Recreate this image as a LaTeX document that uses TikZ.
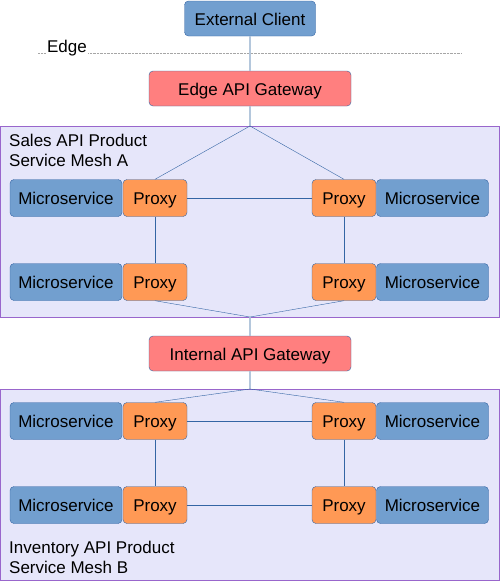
\documentclass[tikz,border=0pt]{standalone}
\usepackage{fontspec}
\setmainfont{Liberation Sans}
\usetikzlibrary{positioning}
\definecolor{msblue}{HTML}{729FCF}
\definecolor{lineblue}{HTML}{3465A4}
\definecolor{palelink}{HTML}{B4C7DC}
\definecolor{pxorange}{HTML}{FF9955}
\definecolor{gwred}{HTML}{FF7F7F}
\definecolor{meshfill}{HTML}{E6E6FA}
\definecolor{meshline}{HTML}{9966CC}

\begin{document}
\begin{tikzpicture}[x=1pt, y=-1pt, font=\fontsize{17}{20}\selectfont]
\tikzset{BoxStyle/.style = {draw=lineblue, rounded corners=4pt, inner sep=0pt, minimum height=37pt, text=black, text height=14pt, text depth=1pt}}
\tikzset{MicroStyle/.style = {BoxStyle, fill=msblue, minimum width=112pt}}
\tikzset{ProxyStyle/.style = {BoxStyle, fill=pxorange, minimum width=64pt}}
\tikzset{GateStyle/.style = {BoxStyle, fill=gwred, minimum width=202pt, minimum height=35pt}}
\tikzset{MeshStyle/.style = {draw=meshline, fill=meshfill}}
\tikzset{LinkStyle/.style = {draw=lineblue, thin}}
\tikzset{GateLink/.style = {draw=palelink, line width=1.5pt}}
  \useasboundingbox (0,0) rectangle (500,581);
  % meshes
  \draw[MeshStyle] (0.5,126) rectangle (499.5,317);
  \draw[MeshStyle] (0.5,389) rectangle (499.5,580.5);
  \node[anchor=west, align=left, inner sep=0pt] (meshA) at (9,150) {Sales API Product\\Service Mesh A};
  \node[anchor=west, align=left, inner sep=0pt] (meshB) at (9,557) {Inventory API Product\\Service Mesh B};
  % edge
  \coordinate (edgeL) at (38,53);
  \coordinate (edgeR) at (461,53);
  \draw[densely dotted, gray!70] (edgeL) -- (edgeR);
  \node[fill=white, inner sep=1pt] (edge) at (67,48) {Edge};
  % top
  \node[BoxStyle, fill=msblue, minimum width=131pt, minimum height=35pt] (client) at (250,18.5) {External Client};
  \node[GateStyle] (edgegw) at (250,88.5) {Edge API Gateway};
  \node[GateStyle] (intgw) at (250,353.5) {Internal API Gateway};
  \coordinate (hubA) at (250,126);
  \coordinate (hubAB) at (250,317);
  \coordinate (hubB) at (250,389);
  % mesh A
  \node[MicroStyle] (msA1) at (66,198) {Microservice};
  \node[ProxyStyle] (pxA1) at (155,198) {Proxy};
  \node[ProxyStyle] (pxA2) at (344,198) {Proxy};
  \node[MicroStyle] (msA2) at (432.5,198) {Microservice};
  \node[MicroStyle] (msA3) at (66,282) {Microservice};
  \node[ProxyStyle] (pxA3) at (155,282) {Proxy};
  \node[ProxyStyle] (pxA4) at (344,282) {Proxy};
  \node[MicroStyle] (msA4) at (432.5,282) {Microservice};
  % mesh B
  \node[MicroStyle] (msB1) at (66,421) {Microservice};
  \node[ProxyStyle] (pxB1) at (155,421) {Proxy};
  \node[ProxyStyle] (pxB2) at (344,421) {Proxy};
  \node[MicroStyle] (msB2) at (432.5,421) {Microservice};
  \node[MicroStyle] (msB3) at (66,505) {Microservice};
  \node[ProxyStyle] (pxB3) at (155,505) {Proxy};
  \node[ProxyStyle] (pxB4) at (344,505) {Proxy};
  \node[MicroStyle] (msB4) at (432.5,505) {Microservice};
  % gateway links
  \draw[GateLink] (client) -- (edgegw);
  \draw[GateLink] (edgegw) -- (hubA);
  \draw[GateLink] (hubAB) -- (intgw);
  \draw[GateLink] (intgw) -- (hubB);
  % mesh links
  \draw[LinkStyle] (hubA) -- (pxA1.north) (hubA) -- (pxA2.north);
  \draw[LinkStyle] (pxA1) -- (pxA2) (pxA1) -- (pxA3) (pxA2) -- (pxA4);
  \draw[LinkStyle] (pxA3.south) -- (hubAB) -- (pxA4.south);
  \draw[LinkStyle] (hubB) -- (pxB1.north) (hubB) -- (pxB2.north);
  \draw[LinkStyle] (pxB1) -- (pxB2) (pxB1) -- (pxB3) (pxB2) -- (pxB4) (pxB3) -- (pxB4);
\end{tikzpicture}
\end{document}
